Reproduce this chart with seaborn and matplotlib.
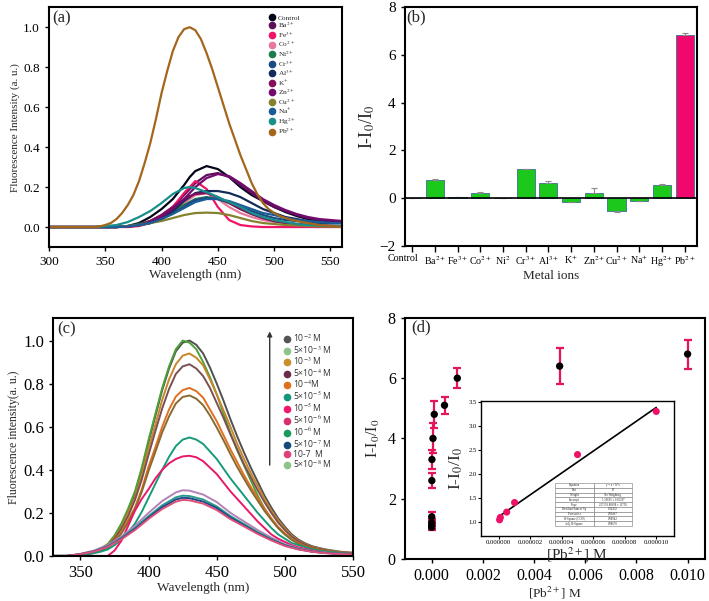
import matplotlib
matplotlib.use("Agg")
import matplotlib.pyplot as plt
import matplotlib.transforms as mtransforms
from matplotlib.lines import Line2D
from matplotlib.ticker import FormatStrFormatter
import numpy as np
import seaborn as sns

# ---- (a) emission spectra with different metal ions ----
wl_a = [300, 310, 320, 330, 340, 350, 360, 370, 380, 390, 400, 410, 420, 425, 430,
        440, 450, 460, 470, 480, 490, 500, 510, 520, 530, 540, 550, 560]
wl_pb = list(range(300, 561, 5))
ions_a = ["Control", "Ba$^{2+}$", "Fe$^{3+}$", "Co$^{2+}$", "Ni$^{2+}$", "Cr$^{3+}$", "Al$^{3+}$",
          "K$^{+}$", "Zn$^{2+}$", "Cu$^{2+}$", "Na$^{+}$", "Hg$^{2+}$", "Pb$^{2+}$"]
colors_a = ["#05051a", "#5e0f5c", "#ef1466", "#e8799b", "#1f7a4c", "#1b4a80", "#142c5a",
            "#850f5c", "#730a6e", "#85822e", "#1a5c98", "#17908c", "#a4661c"]
control = [0, 0, 0, 0, 0, 0, 0, 0.005, 0.02, 0.05, 0.09, 0.14, 0.21, 0.25, 0.28, 0.305, 0.29, 0.25, 0.2, 0.16, 0.13, 0.1, 0.075, 0.055, 0.04, 0.03, 0.025, 0.02]
ba = [0, 0, 0, 0, 0, 0, 0, 0.003, 0.01, 0.03, 0.06, 0.1, 0.16, 0.19, 0.22, 0.26, 0.27, 0.25, 0.21, 0.17, 0.13, 0.1, 0.08, 0.06, 0.045, 0.035, 0.03, 0.03]
fe = [0, 0, 0, 0, 0, 0, 0, 0, 0.005, 0.02, 0.05, 0.1, 0.17, 0.2, 0.23, 0.19, 0.1, 0.035, 0.01, 0.003, 0, 0, 0, 0, 0, 0, 0, 0]
co = [0, 0, 0, 0, 0, 0, 0, 0.003, 0.01, 0.03, 0.05, 0.08, 0.12, 0.14, 0.16, 0.17, 0.14, 0.1, 0.07, 0.05, 0.035, 0.025, 0.02, 0.015, 0.01, 0.008, 0.005, 0.005]
ni = [0, 0, 0, 0, 0, 0, 0, 0.005, 0.015, 0.03, 0.05, 0.08, 0.11, 0.125, 0.14, 0.15, 0.14, 0.12, 0.09, 0.065, 0.045, 0.03, 0.02, 0.015, 0.01, 0.008, 0.006, 0.005]
cr = [0, 0, 0, 0, 0, 0, 0, 0.003, 0.01, 0.02, 0.04, 0.07, 0.1, 0.12, 0.135, 0.145, 0.14, 0.125, 0.1, 0.08, 0.06, 0.045, 0.035, 0.03, 0.025, 0.02, 0.02, 0.02]
al = [0, 0, 0, 0, 0, 0, 0, 0.005, 0.01, 0.02, 0.04, 0.08, 0.13, 0.15, 0.17, 0.18, 0.18, 0.17, 0.15, 0.12, 0.09, 0.07, 0.05, 0.04, 0.03, 0.025, 0.02, 0.02]
k = [0, 0, 0, 0, 0, 0, 0, 0.003, 0.01, 0.03, 0.06, 0.1, 0.14, 0.155, 0.165, 0.17, 0.15, 0.12, 0.09, 0.065, 0.045, 0.03, 0.02, 0.015, 0.01, 0.008, 0.006, 0.005]
zn = [0, 0, 0, 0, 0, 0, 0, 0.002, 0.008, 0.025, 0.05, 0.09, 0.14, 0.17, 0.2, 0.245, 0.265, 0.255, 0.22, 0.18, 0.14, 0.11, 0.085, 0.065, 0.05, 0.04, 0.035, 0.03]
cu = [0, 0, 0, 0, 0, 0, 0, 0.005, 0.01, 0.02, 0.03, 0.045, 0.06, 0.065, 0.07, 0.072, 0.07, 0.06, 0.045, 0.03, 0.02, 0.015, 0.01, 0.008, 0.005, 0.003, 0.002, 0.002]
na = [0, 0, 0, 0, 0, 0, 0, 0.003, 0.01, 0.02, 0.04, 0.065, 0.095, 0.11, 0.125, 0.14, 0.14, 0.13, 0.11, 0.09, 0.07, 0.06, 0.045, 0.035, 0.03, 0.025, 0.02, 0.02]
hg = [0, 0, 0, 0, 0, 0.005, 0.01, 0.025, 0.05, 0.08, 0.12, 0.165, 0.195, 0.2, 0.195, 0.175, 0.15, 0.125, 0.1, 0.07, 0.05, 0.035, 0.025, 0.015, 0.01, 0.008, 0.005, 0.005]
pb = [0, 0, 0, 0, 0, 0, 0, 0, 0, 0.003,                               # 300-345
      0.01, 0.02, 0.04, 0.07, 0.11, 0.16, 0.23, 0.32, 0.42, 0.54,     # 350-395
      0.67, 0.78, 0.88, 0.95, 0.99, 1.0, 0.985, 0.94, 0.87, 0.79,     # 400-445
      0.7, 0.61, 0.52, 0.44, 0.36, 0.29, 0.22, 0.165, 0.12, 0.09,     # 450-495
      0.07, 0.055, 0.045, 0.037, 0.03, 0.025, 0.02, 0.015, 0.01, 0.008,  # 500-545
      0.005, 0.003, 0]                                                # 550-560
spectra_a = [control, ba, fe, co, ni, cr, al, k, zn, cu, na, hg]

# ---- (b) selectivity bars ----
ions_b = ["Control", "Ba$^{2+}$", "Fe$^{3+}$", "Co$^{2+}$", "Ni$^{2}$", "Cr$^{3+}$", "Al$^{3+}$",
          "K$^{+}$", "Zn$^{2+}$", "Cu$^{2+}$", "Na$^{+}$", "Hg$^{2+}$", "Pb$^{2+}$"]
resp_b = [0, 0.75, 0.05, 0.22, 0, 1.2, 0.65, -0.15, 0.22, -0.55, -0.12, 0.55, 6.82]
err_b = [0, 0.06, 0.01, 0.02, 0, 0.02, 0.06, 0.03, 0.22, 0.04, 0.02, 0.04, 0.08]

# ---- (c) Pb2+ titration spectra ----
wl_c = list(range(330, 551, 5))
wl_c10 = [330, 340, 350, 360, 370, 380, 390, 400, 410, 420, 425, 430, 440, 450, 460,
          470, 480, 490, 500, 510, 520, 530, 540, 550]
conc_labels = ["10$^{-2}$ M", "5×10$^{-3}$ M", "10$^{-3}$ M", "5×10$^{-4}$ M", "10$^{-4}$M",
               "5×10$^{-5}$ M", "10$^{-5}$ M", "5×10$^{-6}$ M", "10$^{-6}$ M", "5×10$^{-7}$ M",
               "10-7  M", "5×10$^{-8}$ M"]
legend_colors_c = ["#555555", "#8cc48c", "#c88f2c", "#6a2e4c", "#e0701e", "#16957c",
                   "#ee1a6e", "#d4306e", "#1a9a5c", "#164a7a", "#e0407a", "#8cc48c"]
curve_colors_c = ["#505050", "#4ea038", "#c8862a", "#7a5050", "#e07020", "#8a6a30",
                  "#179a7a", "#e8186a", "#b482b8", "#2a9a8a", "#1c4a8a", "#e0507a"]
c1 = [0, 0, 0, 0.002, 0.005, 0.01, 0.02, 0.033, 0.05, 0.09,
      0.14, 0.21, 0.29, 0.4, 0.53, 0.65, 0.77, 0.87, 0.95, 0.99,
      1.0, 0.98, 0.94, 0.875, 0.8, 0.72, 0.635, 0.555, 0.48, 0.41,
      0.345, 0.28, 0.225, 0.175, 0.135, 0.1, 0.075, 0.058, 0.045, 0.037,
      0.03, 0.025, 0.02, 0.017, 0.015]
c2 = [0, 0, 0, 0.002, 0.005, 0.01, 0.02, 0.035, 0.055, 0.095,
      0.15, 0.22, 0.3, 0.41, 0.54, 0.66, 0.78, 0.88, 0.96, 1.0,
      0.99, 0.96, 0.9, 0.83, 0.75, 0.66, 0.57, 0.49, 0.42, 0.35,
      0.28, 0.22, 0.17, 0.13, 0.1, 0.075, 0.06, 0.045, 0.035, 0.027,
      0.02, 0.017, 0.015, 0.012, 0.01]
c3 = [0, 0, 0, 0.002, 0.005, 0.009, 0.019, 0.031, 0.047, 0.085,
      0.13, 0.2, 0.27, 0.375, 0.5, 0.61, 0.725, 0.82, 0.89, 0.93,
      0.94, 0.92, 0.885, 0.82, 0.75, 0.675, 0.6, 0.52, 0.45, 0.385,
      0.325, 0.265, 0.21, 0.165, 0.127, 0.094, 0.07, 0.055, 0.042, 0.035,
      0.028, 0.023, 0.019, 0.016, 0.014]
c4 = [0, 0, 0, 0.002, 0.004, 0.009, 0.018, 0.029, 0.045, 0.08,
      0.125, 0.185, 0.26, 0.355, 0.47, 0.58, 0.685, 0.775, 0.845, 0.88,
      0.89, 0.87, 0.835, 0.78, 0.71, 0.64, 0.565, 0.495, 0.425, 0.365,
      0.305, 0.25, 0.2, 0.155, 0.12, 0.089, 0.067, 0.052, 0.04, 0.033,
      0.027, 0.022, 0.018, 0.015, 0.013]
c5 = [0, 0, 0, 0.002, 0.004, 0.008, 0.016, 0.026, 0.039, 0.07,
      0.11, 0.165, 0.225, 0.31, 0.415, 0.505, 0.6, 0.68, 0.74, 0.77,
      0.78, 0.765, 0.735, 0.68, 0.625, 0.56, 0.495, 0.435, 0.375, 0.32,
      0.27, 0.22, 0.175, 0.135, 0.105, 0.078, 0.059, 0.045, 0.035, 0.029,
      0.023, 0.02, 0.016, 0.013, 0.012]
c6 = [0, 0, 0, 0.001, 0.004, 0.007, 0.015, 0.025, 0.037, 0.067,
      0.104, 0.156, 0.216, 0.298, 0.395, 0.484, 0.574, 0.648, 0.708, 0.738,
      0.745, 0.73, 0.7, 0.652, 0.596, 0.536, 0.473, 0.413, 0.358, 0.305,
      0.257, 0.209, 0.168, 0.13, 0.1, 0.075, 0.056, 0.043, 0.034, 0.028,
      0.022, 0.019, 0.015, 0.013, 0.011]
c7 = [0, 0, 0, 0.002, 0.004, 0.008, 0.013, 0.02, 0.03, 0.05,
      0.075, 0.11, 0.15, 0.205, 0.27, 0.335, 0.4, 0.46, 0.51, 0.54,
      0.55, 0.54, 0.52, 0.485, 0.45, 0.405, 0.36, 0.32, 0.28, 0.24,
      0.2, 0.165, 0.13, 0.1, 0.08, 0.06, 0.05, 0.04, 0.03, 0.025,
      0.02, 0.017, 0.015, 0.012, 0.01]
c8 = [0, 0, 0, 0, 0, 0, 0, 0, 0, 0.025,
      0.07, 0.14, 0.21, 0.265, 0.31, 0.36, 0.4, 0.43, 0.45, 0.462,
      0.465, 0.458, 0.44, 0.41, 0.38, 0.34, 0.3, 0.265, 0.23, 0.195,
      0.16, 0.13, 0.1, 0.08, 0.065, 0.05, 0.04, 0.032, 0.025, 0.02,
      0.015, 0.012, 0.01, 0.01, 0.01]
c9 = [0, 0, 0.01, 0.025, 0.05, 0.09, 0.14, 0.2, 0.255, 0.295, 0.305, 0.303, 0.285, 0.25, 0.2, 0.16, 0.12, 0.085, 0.055, 0.035, 0.022, 0.015, 0.01, 0.008]
c10 = [0, 0, 0.008, 0.022, 0.045, 0.083, 0.13, 0.185, 0.235, 0.272, 0.28, 0.278, 0.262, 0.23, 0.185, 0.148, 0.11, 0.078, 0.05, 0.032, 0.02, 0.014, 0.01, 0.008]
c11 = [0, 0, 0.008, 0.021, 0.043, 0.08, 0.125, 0.178, 0.226, 0.262, 0.27, 0.268, 0.252, 0.222, 0.178, 0.142, 0.106, 0.075, 0.048, 0.031, 0.02, 0.013, 0.01, 0.008]
c12 = [0, 0, 0.008, 0.02, 0.042, 0.077, 0.12, 0.172, 0.218, 0.252, 0.26, 0.258, 0.243, 0.213, 0.171, 0.137, 0.102, 0.072, 0.046, 0.03, 0.019, 0.013, 0.009, 0.007]
spectra_c = [c1, c2, c3, c4, c5, c6, c7, c8, c9, c10, c11, c12]

# ---- (d) response vs concentration ----
conc_d = [5e-8, 1e-7, 5e-7, 1e-6, 5e-6, 1e-5, 5e-5, 1e-4, 5e-4, 1e-3, 5e-3, 1e-2]
resp_d = [1.05, 1.1, 1.2, 1.4, 2.6, 3.3, 4.0, 4.8, 5.1, 6.0, 6.4, 6.8]
err_d = [0.1, 0.1, 0.12, 0.15, 0.25, 0.3, 0.5, 0.45, 0.28, 0.33, 0.6, 0.48]
conc_lin = [5e-8, 1e-7, 5e-7, 1e-6, 5e-6, 1e-5]
resp_lin = [1.04, 1.09, 1.2, 1.4, 2.4, 3.3]
fit_rows = [["Equation", "y = a + b*x"], ["Plot", "B"], ["Weight", "No Weighting"],
            ["Intercept", "1.10695 ± 0.05287"], ["Slope", "227591.80698 ± 11750"],
            ["Residual Sum of Sq", "0.04432"], ["Pearson's r", "0.99467"],
            ["R-Square (COD)", "0.98942"], ["Adj. R-Square", "0.98678"]]

sns.set_theme(style="ticks")
plt.rcParams["font.family"] = ["Liberation Serif", "DejaVu Serif"]
plt.rcParams["mathtext.fontset"] = "stix"
plt.rcParams["axes.linewidth"] = 1.5
plt.rcParams["axes.edgecolor"] = "black"
plt.rcParams["xtick.color"] = "black"
plt.rcParams["ytick.color"] = "black"

fig = plt.figure(figsize=(7.09, 6.01), dpi=100)
ax_a = fig.add_axes([0.069, 0.589, 0.413, 0.399])
ax_b = fig.add_axes([0.571, 0.591, 0.412, 0.397])
ax_c = fig.add_axes([0.075, 0.075, 0.423, 0.396])
ax_d = fig.add_axes([0.571, 0.070, 0.423, 0.401])
ax_in = fig.add_axes([0.678, 0.108, 0.272, 0.225])

# (a)
for vals, col in zip(spectra_a, colors_a):
    sns.lineplot(x=wl_a, y=vals, color=col, lw=1.6, ax=ax_a)
sns.lineplot(x=wl_pb, y=pb, color=colors_a[-1], lw=1.6, ax=ax_a)
ax_a.set_xlim(300, 560)
ax_a.set_ylim(-0.1, 1.1)
ax_a.set_xticks([300, 350, 400, 450, 500, 550])
ax_a.set_yticks([0.0, 0.2, 0.4, 0.6, 0.8, 1.0])
ax_a.yaxis.set_major_formatter(FormatStrFormatter("%.1f"))
ax_a.tick_params(labelsize=9.5, length=3, width=1)
ax_a.set_xlabel("Wavelength (nm)", fontsize=9.5, labelpad=1)
ax_a.set_ylabel("Fluorescence Intensity (a. u.)", fontsize=8, labelpad=2)
ax_a.text(0.012, 0.985, "(a)", transform=ax_a.transAxes, fontsize=12, va="top")
handles_a = [Line2D([], [], ls="none", marker="o", ms=4.5, color=c) for c in colors_a]
ax_a.legend(handles_a, ions_a, loc="upper left", bbox_to_anchor=(0.74, 0.985), frameon=False,
            fontsize=5.3, handlelength=0.8, handletextpad=0.4, labelspacing=0.0, borderpad=0)

# (b)
bar_cols = ["#1cc81c"] * (len(ions_b) - 1) + ["#f0086c"]
sns.barplot(x=ions_b, y=resp_b, hue=ions_b, palette=bar_cols, legend=False, width=0.8,
            saturation=1, edgecolor="#3d6e9a", linewidth=0.6, ax=ax_b)
lo = [e if v < 0 else 0 for v, e in zip(resp_b, err_b)]
hi = [e if v >= 0 else 0 for v, e in zip(resp_b, err_b)]
ax_b.errorbar(range(len(ions_b)), resp_b, yerr=[lo, hi], fmt="none", ecolor="#8a8a8a",
              elinewidth=0.8, capsize=2, capthick=0.8)
ax_b.axhline(0, color="black", lw=1.2)
ax_b.set_xlim(-0.32, 12.54)
ax_b.set_ylim(-2, 8)
ax_b.set_yticks([-2, 0, 2, 4, 6, 8])
ax_b.set_xticks(range(len(ions_b)))
ax_b.set_xticklabels(ions_b)
ax_b.tick_params(axis="y", labelsize=11, length=3, width=1)
ax_b.tick_params(axis="x", labelsize=7.2, length=4, width=1, pad=2)
first = ax_b.get_xticklabels()[0]
first.set_transform(first.get_transform() + mtransforms.ScaledTranslation(-0.09, 0, fig.dpi_scale_trans))
ax_b.set_xlabel("Metal ions", fontsize=9.5, labelpad=1)
ax_b.set_ylabel("I-I$_0$/I$_0$", fontsize=13, labelpad=2)
ax_b.text(0.005, 0.99, "(b)", transform=ax_b.transAxes, fontsize=12, va="top")

# (c)
for i, (vals, col) in enumerate(zip(spectra_c, curve_colors_c)):
    xs_c = wl_c if i < 8 else wl_c10
    sns.lineplot(x=xs_c, y=vals, color=col, lw=1.4, ax=ax_c)
ax_c.set_xlim(330, 550)
ax_c.set_ylim(0, 1.105)
ax_c.set_xticks([350, 400, 450, 500, 550])
ax_c.set_yticks([0.0, 0.2, 0.4, 0.6, 0.8, 1.0])
ax_c.yaxis.set_major_formatter(FormatStrFormatter("%.1f"))
ax_c.tick_params(labelsize=12, length=3, width=1)
ax_c.set_xlabel("Wavelength (nm)", fontsize=9.5, labelpad=1)
ax_c.set_ylabel("Fluorescence intensity(a. u.)", fontsize=8.5, labelpad=2)
ax_c.text(0.012, 0.985, "(c)", transform=ax_c.transAxes, fontsize=12, va="top")
handles_c = [Line2D([], [], ls="none", marker="o", ms=4.5, color=c) for c in legend_colors_c]
leg_c = ax_c.legend(handles_c, conc_labels, loc="upper left", bbox_to_anchor=(0.755, 0.955),
                    frameon=False, handlelength=0.8, handletextpad=0.3,
                    labelspacing=0.0, borderpad=0, prop={"family": "Open Sans", "size": 6.2})
for t in leg_c.get_texts():
    t.set_color("#333333")
ax_c.annotate("", xy=(0.722, 0.955), xytext=(0.722, 0.37), xycoords="axes fraction",
              arrowprops=dict(arrowstyle="-|>", color="#333333", lw=1, mutation_scale=7))

# (d)
ax_d.errorbar(conc_d, resp_d, yerr=err_d, fmt="none", ecolor="#e3155e", elinewidth=1.6,
              capsize=3, capthick=1.6, zorder=2)
sns.scatterplot(x=conc_d, y=resp_d, color="black", s=28, edgecolor="none", zorder=3, ax=ax_d)
ax_d.set_xlim(-0.00105, 0.01067)
ax_d.set_ylim(0, 8)
ax_d.set_xticks([0, 0.002, 0.004, 0.006, 0.008, 0.010])
ax_d.xaxis.set_major_formatter(FormatStrFormatter("%.3f"))
ax_d.tick_params(labelsize=11.5, length=3, width=1)
ax_d.set_xlabel("[Pb$^{2+}$] M", fontsize=9.5, labelpad=1)
ax_d.set_ylabel("I-I$_0$/I$_0$", fontsize=11.5, labelpad=4)
ax_d.text(0.02, 0.995, "(d)", transform=ax_d.transAxes, fontsize=12, va="top")

# inset: linear range
slope, icpt = np.polyfit(conc_lin, resp_lin, 1)
xs = np.array([0, max(conc_lin)])
sns.lineplot(x=xs, y=icpt + slope * xs, color="black", lw=1.2, ax=ax_in)
sns.scatterplot(x=conc_lin, y=resp_lin, color="#ee1166", s=26, edgecolor="none", zorder=3, ax=ax_in)
ax_in.set_xlim(-1.15e-6, 1.11e-5)
ax_in.set_ylim(0.7, 3.52)
ax_in.set_xticks([0, 2e-6, 4e-6, 6e-6, 8e-6, 1e-5])
ax_in.set_yticks([1.0, 1.5, 2.0, 2.5, 3.0, 3.5])
ax_in.xaxis.set_major_formatter(FormatStrFormatter("%.6f"))
ax_in.yaxis.set_major_formatter(FormatStrFormatter("%.1f"))
ax_in.tick_params(labelsize=4.8, length=2, width=0.8, pad=1)
for s in ax_in.spines.values():
    s.set_linewidth(1.0)
ax_in.set_xlabel("[Pb$^{2+}$] M", fontsize=11, labelpad=0)
ax_in.set_ylabel("I-I$_0$/I$_0$", fontsize=12.5, labelpad=2)
tbl = ax_in.table(cellText=fit_rows, bbox=[0.383, 0.074, 0.404, 0.319], cellLoc="center")
tbl.auto_set_font_size(False)
tbl.set_fontsize(2.2)
for cell in tbl.get_celld().values():
    cell.set_linewidth(0.4)
    cell.set_edgecolor("#777777")

fig.savefig("out.png", dpi=100)
